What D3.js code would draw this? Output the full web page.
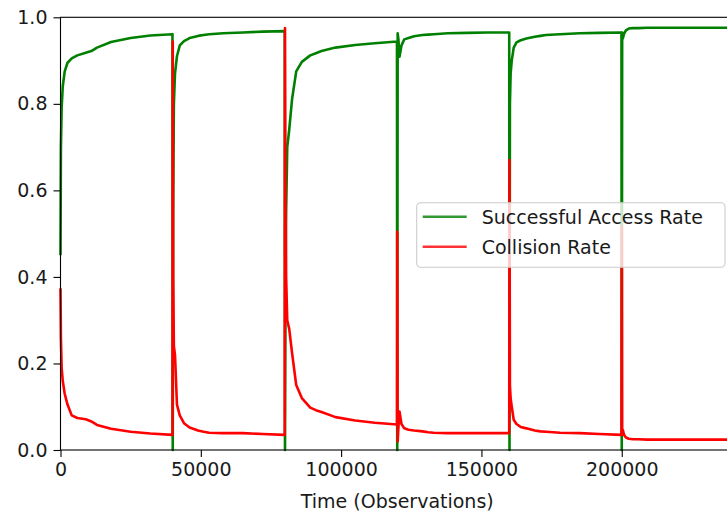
<!DOCTYPE html>
<html>
<head>
<meta charset="utf-8">
<script src="https://cdn.jsdelivr.net/npm/d3@7"></script>
<style>
  body { margin: 0; background: #fff; }
  svg { display: block; font-family: "DejaVu Sans", sans-serif; }
</style>
</head>
<body>
<div id="chart"></div>
<script>
// environment resets every 40000 observations
const resetPoints = [0, 40000, 80000, 120000, 160000, 200000];
const stepOffsets = [0, 150, 400, 800, 1500, 2500, 4000, 6000, 9000, 11000, 13000, 18000, 25000, 32000, 39900];

// one row per reset block
const successRate = [
  [0.45, 0.70, 0.79, 0.84, 0.875, 0.895, 0.905, 0.912, 0.918, 0.922, 0.930, 0.943, 0.952, 0.958, 0.961],
  [0.00, 0.55, 0.80, 0.87, 0.910, 0.935, 0.945, 0.952, 0.957, 0.959, 0.961, 0.963, 0.965, 0.967, 0.968],
  [0.00, 0.30, 0.55, 0.70, 0.740, 0.810, 0.875, 0.897, 0.912, 0.917, 0.922, 0.930, 0.936, 0.940, 0.944],
  [0.00, 0.963, 0.95, 0.909, 0.935, 0.949, 0.952, 0.956, 0.959, 0.960, 0.961, 0.963, 0.964, 0.965, 0.965],
  [0.00, 0.80, 0.87, 0.90, 0.930, 0.942, 0.947, 0.951, 0.955, 0.957, 0.959, 0.961, 0.963, 0.964, 0.965],
  [0.00, 0.965, 0.951, 0.962, 0.970, 0.974, 0.975, 0.975, 0.976, 0.976, 0.976, 0.976, 0.976, 0.976, 0.976]
];
const collisionRate = [
  [0.374, 0.26, 0.19, 0.16, 0.13, 0.105, 0.080, 0.074, 0.071, 0.066, 0.058, 0.049, 0.042, 0.038, 0.035],
  [0.944, 0.40, 0.24, 0.22, 0.105, 0.080, 0.062, 0.052, 0.045, 0.042, 0.040, 0.039, 0.039, 0.037, 0.035],
  [0.975, 0.60, 0.40, 0.30, 0.28, 0.225, 0.150, 0.120, 0.098, 0.092, 0.088, 0.076, 0.068, 0.063, 0.059],
  [0.504, 0.02, 0.05, 0.089, 0.060, 0.050, 0.047, 0.045, 0.043, 0.041, 0.040, 0.039, 0.039, 0.039, 0.039],
  [0.67, 0.15, 0.12, 0.10, 0.070, 0.060, 0.053, 0.050, 0.045, 0.043, 0.042, 0.040, 0.039, 0.037, 0.035],
  [0.516, 0.04, 0.046, 0.035, 0.029, 0.026, 0.025, 0.025, 0.024, 0.024, 0.024, 0.024, 0.024, 0.024, 0.024]
];

const xTicks = [0, 50000, 100000, 150000, 200000];
const yTicks = [0.0, 0.2, 0.4, 0.6, 0.8, 1.0];
const seriesNames = ["Successful Access Rate", "Collision Rate"];
const seriesColors = ["#008000", "#ff0000"];

const width = 727, height = 515;
const margin = { top: 17.3, left: 60.5, bottom: 65, right: -7 };

const svg = d3.select("#chart").append("svg")
  .attr("width", width)
  .attr("height", height);

const xScale = d3.scaleLinear()
  .domain([0, 240000])
  .range([margin.left, width - margin.right]);

const yScale = d3.scaleLinear()
  .domain([0, 1])
  .range([height - margin.bottom, margin.top]);

// turn the blocks into point lists
function buildSeries(rows) {
  let pts = [];
  rows.forEach(function (row, b) {
    row.forEach(function (v, i) {
      pts.push({ t: resetPoints[b] + stepOffsets[i], v: v });
    });
  });
  return pts;
}
const allSeries = [buildSeries(successRate), buildSeries(collisionRate)];

const line = d3.line()
  .x(d => xScale(d.t))
  .y(d => yScale(d.v));

svg.selectAll("path.series")
  .data(allSeries)
  .enter()
  .append("path")
  .attr("class", "series")
  .attr("d", line)
  .attr("fill", "none")
  .attr("stroke", (d, i) => seriesColors[i])
  .attr("stroke-width", 2.6)
  .attr("stroke-linejoin", "round");

// axes
const xAxis = d3.axisBottom(xScale)
  .tickValues(xTicks)
  .tickFormat(d3.format("d"))
  .tickSize(7)
  .tickSizeOuter(0)
  .tickPadding(6);

const yAxis = d3.axisLeft(yScale)
  .tickValues(yTicks)
  .tickFormat(d3.format(".1f"))
  .tickSize(7)
  .tickSizeOuter(0)
  .tickPadding(6);

const gx = svg.append("g")
  .attr("transform", "translate(0," + yScale(0) + ")")
  .call(xAxis);
const gy = svg.append("g")
  .attr("transform", "translate(" + xScale(0) + ",0)")
  .call(yAxis);

[gx, gy].forEach(function (g) {
  g.select(".domain").remove();
  g.selectAll(".tick line").attr("stroke", "#000").attr("stroke-width", 1.1);
  g.selectAll(".tick text")
    .attr("fill", "#1a1a1a")
    .style("font-size", "19px")
    .style("font-family", "DejaVu Sans");
});

// spines
svg.append("rect")
  .attr("x", xScale(0))
  .attr("y", yScale(1))
  .attr("width", xScale(240000) - xScale(0))
  .attr("height", yScale(0) - yScale(1))
  .attr("fill", "none")
  .attr("stroke", "#000")
  .attr("stroke-width", 1.1);

svg.append("text")
  .attr("x", (xScale(0) + xScale(240000)) / 2)
  .attr("y", 508)
  .attr("text-anchor", "middle")
  .attr("fill", "#1a1a1a")
  .style("font-size", "19px")
  .text("Time (Observations)");

// legend
const legend = svg.append("g").attr("transform", "translate(416.7,202.7)");
legend.append("rect")
  .attr("width", 308.3)
  .attr("height", 64.6)
  .attr("rx", 4)
  .attr("fill", "#fff")
  .attr("fill-opacity", 0.8)
  .attr("stroke", "#cccccc")
  .attr("stroke-width", 1.1);

const items = legend.selectAll("g.item")
  .data(seriesNames)
  .enter()
  .append("g")
  .attr("class", "item")
  .attr("transform", (d, i) => "translate(0," + (14 + i * 30) + ")");

items.append("line")
  .attr("x1", 6).attr("x2", 50)
  .attr("stroke", (d, i) => seriesColors[i])
  .attr("stroke-opacity", 0.8)
  .attr("stroke-width", 2.6);

items.append("text")
  .attr("x", 65)
  .attr("y", 7.5)
  .attr("fill", "#1a1a1a")
  .style("font-size", "19px")
  .text(d => d);
</script>
</body>
</html>
